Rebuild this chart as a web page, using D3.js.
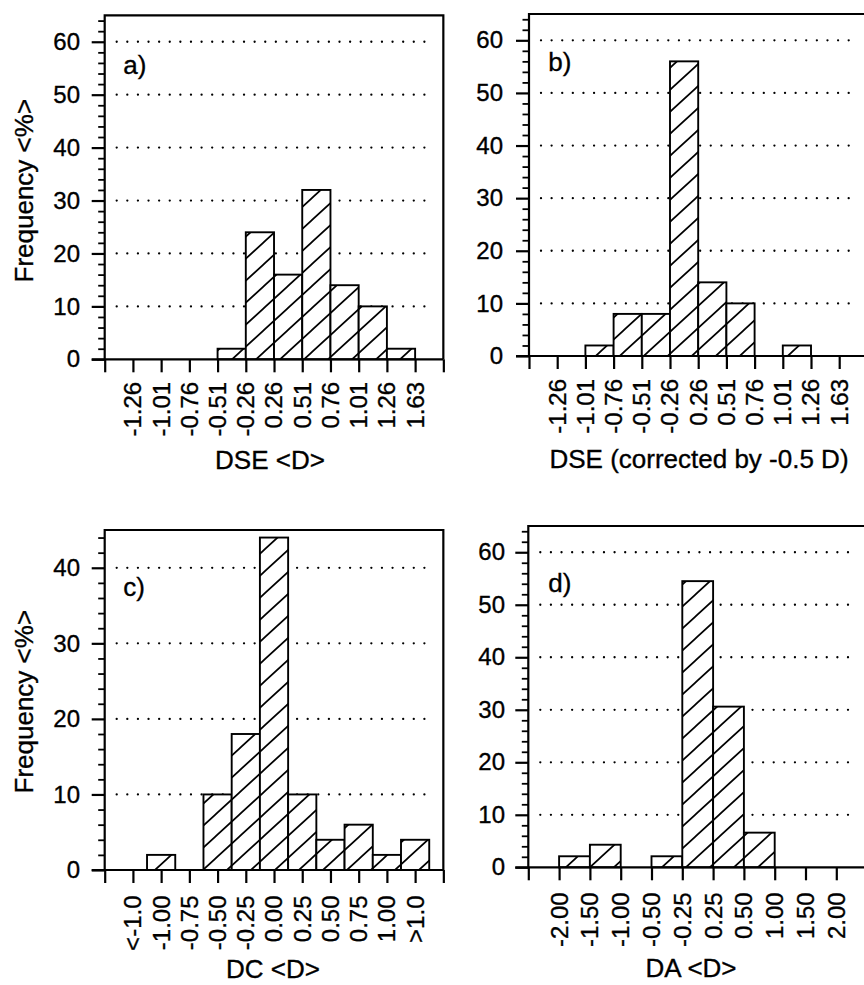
<!DOCTYPE html>
<html>
<head>
<meta charset="utf-8">
<script src="https://cdn.jsdelivr.net/npm/d3@7"></script>
<style>
  html, body { margin: 0; padding: 0; background: #fff; }
  svg { display: block; font-family: "Liberation Sans", Arial, Helvetica, sans-serif; }
  svg text { stroke: #000; stroke-width: 0.35px; fill: #000; }
</style>
</head>
<body>
<svg id="chart" width="864" height="985"></svg>
<script>
// ---------------- DATA ----------------
// Panels a, b, d: labels are bin edges, values are bin frequencies between consecutive edges.
const dseLabels = ["-1.26", "-1.01", "-0.76", "-0.51", "-0.26", "0.26", "0.51", "0.76", "1.01", "1.26", "1.63"];
const dseValues = [0, 0, 0, 2, 24, 16, 32, 14, 10, 2];
const dseCorrLabels = ["-1.26", "-1.01", "-0.76", "-0.51", "-0.26", "0.26", "0.51", "0.76", "1.01", "1.26", "1.63"];
const dseCorrValues = [0, 2, 8, 8, 56, 14, 10, 0, 2, 0];
// Panel c: labels are bin centres.
const dcLabels = ["<-1.0", "-1.00", "-0.75", "-0.50", "-0.25", "0.00", "0.25", "0.50", "0.75", "1.00", ">1.0"];
const dcValues = [0, 2, 0, 10, 18, 44, 10, 4, 6, 2, 4];
const daLabels = ["-2.00", "-1.50", "-1.00", "-0.50", "-0.25", "0.25", "0.50", "1.00", "1.50", "2.00"];
const daValues = [2.1, 4.3, 0, 2.1, 54.5, 30.6, 6.6, 0, 0];

const yTitle = "Frequency <%>";
const xTitles = ["DSE <D>", "DSE (corrected by -0.5 D)", "DC <D>", "DA <D>"];
const tags = ["a)", "b)", "c)", "d)"];

// ---------------- LAYOUT ----------------
const panels = [
  { labels: dseLabels, values: dseValues, mode: "edges", tag: tags[0], xTitle: xTitles[0], yMax: 65, majorStep: 10, majorMax: 60,
    left: 104.7, top: 15.3, zeroY: 359.3, slots: 12, slotW: 28.22, labelRight: 80, tagX: 123.3, tagY: 74,
    titleX: 270, titleY: 468.5, yTitleX: 32.7, yTitleY: 190.7, labelOff: 22.5 },
  { labels: dseCorrLabels, values: dseCorrValues, mode: "edges", tag: tags[1], xTitle: xTitles[1], yMax: 65, majorStep: 10, majorMax: 60,
    left: 529, top: 14, zeroY: 356, slots: 12, slotW: 28.2, labelRight: 503, tagX: 548.3, tagY: 71,
    titleX: 699, titleY: 468, labelOff: 23 },
  { labels: dcLabels, values: dcValues, mode: "centres", tag: tags[2], xTitle: xTitles[2], yMax: 45, majorStep: 10, majorMax: 40,
    left: 104.7, top: 530, zeroY: 870, slots: 12, slotW: 28.22, labelRight: 80, tagX: 123.3, tagY: 596,
    titleX: 273, titleY: 978, yTitleX: 32.7, yTitleY: 701.7, labelOff: 25.5 },
  { labels: daLabels, values: daValues, mode: "edges", tag: tags[3], xTitle: xTitles[3], yMax: 65, majorStep: 10, majorMax: 60,
    left: 528.3, top: 526, zeroY: 867.3, slots: 11, slotW: 30.8, labelRight: 505, tagX: 548.3, tagY: 591.7,
    titleX: 691, titleY: 977, labelOff: 25 }
];

const svg = d3.select("#chart");
const defs = svg.append("defs");
const pat = defs.append("pattern")
  .attr("id", "hatch")
  .attr("patternUnits", "userSpaceOnUse")
  .attr("width", 24).attr("height", 22);
pat.append("rect").attr("width", 24).attr("height", 22).attr("fill", "#fff");
pat.append("path")
  .attr("d", "M-3,24.75 L27,-2.75 M-27,24.75 L3,-2.75 M21,24.75 L51,-2.75")
  .attr("stroke", "#000").attr("stroke-width", 1.7).attr("fill", "none");

panels.forEach(p => {
  const g = svg.append("g");
  const right = p.left + p.slots * p.slotW;
  const x = d3.scaleLinear().domain([0, p.slots]).range([p.left, right]);
  const y = d3.scaleLinear().domain([0, p.yMax]).range([p.zeroY, p.top]);
  const majors = d3.range(0, p.majorMax + 1, p.majorStep);
  const minors = d3.range(0, p.yMax, 2).filter(v => v % p.majorStep !== 0);

  // dotted grid lines
  g.append("g").selectAll("line")
    .data(majors.filter(v => v > 0))
    .join("line")
    .attr("x1", p.left + 12).attr("x2", right - 10)
    .attr("y1", d => y(d)).attr("y2", d => y(d))
    .attr("stroke", "#000").attr("stroke-width", 2.3)
    .attr("stroke-linecap", "round")
    .attr("stroke-dasharray", "0.01 10.6");

  // bars
  const bars = p.values.map((v, i) => {
    if (p.mode === "edges") return { x0: i + 1, x1: i + 2, v };
    return { x0: i + 0.5, x1: i + 1.5, v };
  }).filter(d => d.v > 0);
  g.append("g").selectAll("rect")
    .data(bars)
    .join("rect")
    .attr("x", d => x(d.x0))
    .attr("width", d => x(d.x1) - x(d.x0))
    .attr("y", d => y(d.v))
    .attr("height", d => y(0) - y(d.v))
    .attr("fill", "url(#hatch)")
    .attr("stroke", "#000").attr("stroke-width", 1.9);

  // frame (top, left, right)
  g.append("path")
    .attr("d", `M${p.left},${p.zeroY} L${p.left},${p.top} L${right},${p.top} L${right},${p.zeroY}`)
    .attr("fill", "none").attr("stroke", "#000").attr("stroke-width", 2.2);

  // y axis: major ticks + labels
  const yAxisMajor = d3.axisLeft(y).tickValues(majors).tickSize(13).tickPadding(11).tickFormat(d3.format("d"));
  const ya = g.append("g").attr("transform", `translate(${p.left},0)`).call(yAxisMajor);
  ya.select(".domain").remove();
  ya.selectAll("line").attr("stroke", "#000").attr("stroke-width", 2.2);
  ya.selectAll("text")
    .attr("x", p.labelRight - p.left)
    .attr("font-size", 24).attr("fill", "#000")
    .attr("font-family", "'Liberation Sans', Arial, sans-serif");
  // y axis: minor ticks
  const yAxisMinor = d3.axisLeft(y).tickValues(minors).tickSize(6.5).tickFormat("");
  const ym = g.append("g").attr("transform", `translate(${p.left},0)`).call(yAxisMinor);
  ym.select(".domain").remove();
  ym.selectAll("line").attr("stroke", "#000").attr("stroke-width", 1.8);

  // x axis line (zero line)
  g.append("line")
    .attr("x1", p.left - 13).attr("x2", right)
    .attr("y1", p.zeroY).attr("y2", p.zeroY)
    .attr("stroke", "#000").attr("stroke-width", 2.2);

  // x ticks
  const xAxis = d3.axisBottom(x).tickValues(d3.range(0, p.slots + 1)).tickSize(13).tickFormat("");
  const xa = g.append("g").attr("transform", `translate(0,${p.zeroY})`).call(xAxis);
  xa.select(".domain").remove();
  xa.selectAll("line").attr("stroke", "#000").attr("stroke-width", 2.2);

  // x tick labels (rotated)
  g.append("g").selectAll("text")
    .data(p.labels)
    .join("text")
    .attr("transform", (d, i) => `translate(${x(i + 1)},${p.zeroY + p.labelOff}) rotate(-90)`)
    .attr("text-anchor", "end")
    .attr("dy", "0.35em")
    .attr("font-size", 24)
    .text(d => d);

  // x title
  g.append("text")
    .attr("x", p.titleX).attr("y", p.titleY)
    .attr("text-anchor", "middle")
    .attr("font-size", 26)
    .text(p.xTitle);

  // panel tag
  g.append("text")
    .attr("x", p.tagX).attr("y", p.tagY)
    .attr("font-size", 26)
    .text(p.tag);

  // y title
  if (p.yTitleX !== undefined) {
    g.append("text")
      .attr("transform", `translate(${p.yTitleX},${p.yTitleY}) rotate(-90)`)
      .attr("text-anchor", "middle")
      .attr("font-size", 26)
      .text(yTitle);
  }
});
</script>
</body>
</html>
